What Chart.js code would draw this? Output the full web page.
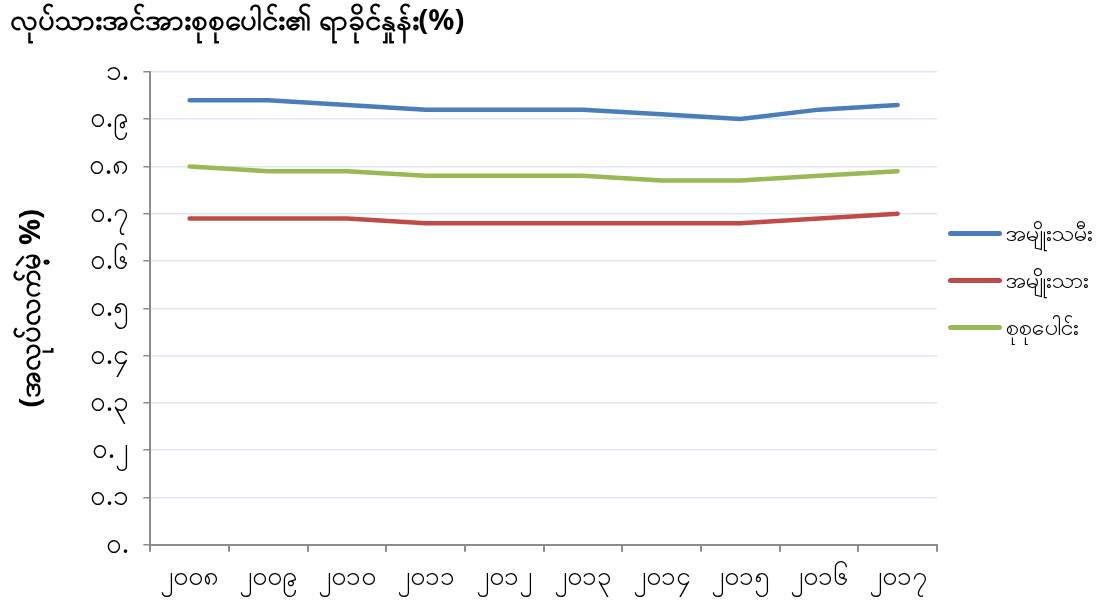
<!DOCTYPE html>
<html lang="my">
<head>
    <meta charset="UTF-8">
    <title>လုပ်သားအင်အားစုစုပေါင်း၏ ရာခိုင်နှုန်း(%)</title>
    <script src="https://cdn.jsdelivr.net/npm/chart.js"></script>
    <style>
        body { margin: 0; background: #fff; }
        #wrap { width: 1100px; height: 606px; position: relative; }
        #legend { position: absolute; left: 948px; top: 210px; font-family: 'Noto Sans', 'DejaVu Sans', sans-serif; font-size: 23px; color: #000; }
        .item { display: flex; align-items: center; height: 47px; }
        .mark { width: 54px; height: 5px; border-radius: 3px; margin-right: 4px; }
    </style>
</head>
<body>
    <div id="wrap">
        <canvas id="chart" width="1100" height="606"></canvas>
        <div id="legend"></div>
    </div>

    <script>
        var years = ['၂၀၀၈', '၂၀၀၉', '၂၀၁၀', '၂၀၁၁', '၂၀၁၂', '၂၀၁၃', '၂၀၁၄', '၂၀၁၅', '၂၀၁၆', '၂၀၁၇'];
        var yTickLabels = ['၀.', '၀.၁', '၀.၂', '၀.၃', '၀.၄', '၀.၅', '၀.၆', '၀.၇', '၀.၈', '၀.၉', '၁.'];

        var female = [0.94, 0.94, 0.93, 0.92, 0.92, 0.92, 0.91, 0.90, 0.92, 0.93];
        var male = [0.69, 0.69, 0.69, 0.68, 0.68, 0.68, 0.68, 0.68, 0.69, 0.70];
        var total = [0.80, 0.79, 0.79, 0.78, 0.78, 0.78, 0.77, 0.77, 0.78, 0.79];

        var fontFam = "'Noto Sans', 'DejaVu Sans', sans-serif";

        function line(label, data, color) {
            return {
                label: label,
                data: data,
                borderColor: color,
                backgroundColor: color,
                borderWidth: 4.5,
                borderCapStyle: 'round',
                borderJoinStyle: 'round',
                pointRadius: 0,
                tension: 0
            };
        }

        var ctx = document.getElementById('chart').getContext('2d');
        var chart = new Chart(ctx, {
            type: 'line',
            data: {
                labels: years,
                datasets: [
                    line('အမျိုးသမီး', female, '#4a7ebb'),
                    line('အမျိုးသား', male, '#be4b48'),
                    line('စုစုပေါင်း', total, '#98b954')
                ]
            },
            options: {
                responsive: false,
                animation: false,
                layout: { padding: { left: 10, right: 163, top: 0, bottom: 3 } },
                plugins: {
                    title: {
                        display: true,
                        text: 'လုပ်သားအင်အားစုစုပေါင်း၏ ရာခိုင်နှုန်း(%)',
                        align: 'start',
                        color: '#000',
                        font: { family: fontFam, size: 29, weight: 'bold' },
                        padding: { top: 4, bottom: 33 }
                    },
                    legend: { display: false },
                    tooltip: { enabled: false }
                },
                scales: {
                    x: {
                        offset: true,
                        grid: {
                            offset: true,
                            drawOnChartArea: false,
                            drawTicks: true,
                            tickLength: 7,
                            tickColor: '#8c8c8c',
                            lineWidth: 2
                        },
                        border: { color: '#8c8c8c', width: 2 },
                        ticks: {
                            color: '#000',
                            padding: 10,
                            maxRotation: 0,
                            font: { family: fontFam, size: 26 }
                        }
                    },
                    y: {
                        min: 0,
                        max: 1,
                        ticks: {
                            stepSize: 0.1,
                            color: '#000',
                            padding: 14,
                            font: { family: fontFam, size: 28 },
                            callback: function (value, index) { return yTickLabels[index]; }
                        },
                        grid: {
                            color: '#dce6f2',
                            lineWidth: 1.5,
                            tickColor: '#8c8c8c',
                            tickLength: 7
                        },
                        border: { color: '#8c8c8c', width: 2 },
                        title: {
                            display: true,
                            text: '(အလုပ်လက်မဲ့ %)',
                            color: '#000',
                            font: { family: fontFam, size: 29, weight: 'bold' },
                            padding: { bottom: 26 }
                        }
                    }
                }
            }
        });

        // legend on the right, built from the datasets
        var legend = document.getElementById('legend');
        chart.data.datasets.forEach(function (ds) {
            var row = document.createElement('div');
            row.className = 'item';
            var mark = document.createElement('span');
            mark.className = 'mark';
            mark.style.background = ds.borderColor;
            var txt = document.createElement('span');
            txt.textContent = ds.label;
            row.appendChild(mark);
            row.appendChild(txt);
            legend.appendChild(row);
        });
    </script>
</body>
</html>
